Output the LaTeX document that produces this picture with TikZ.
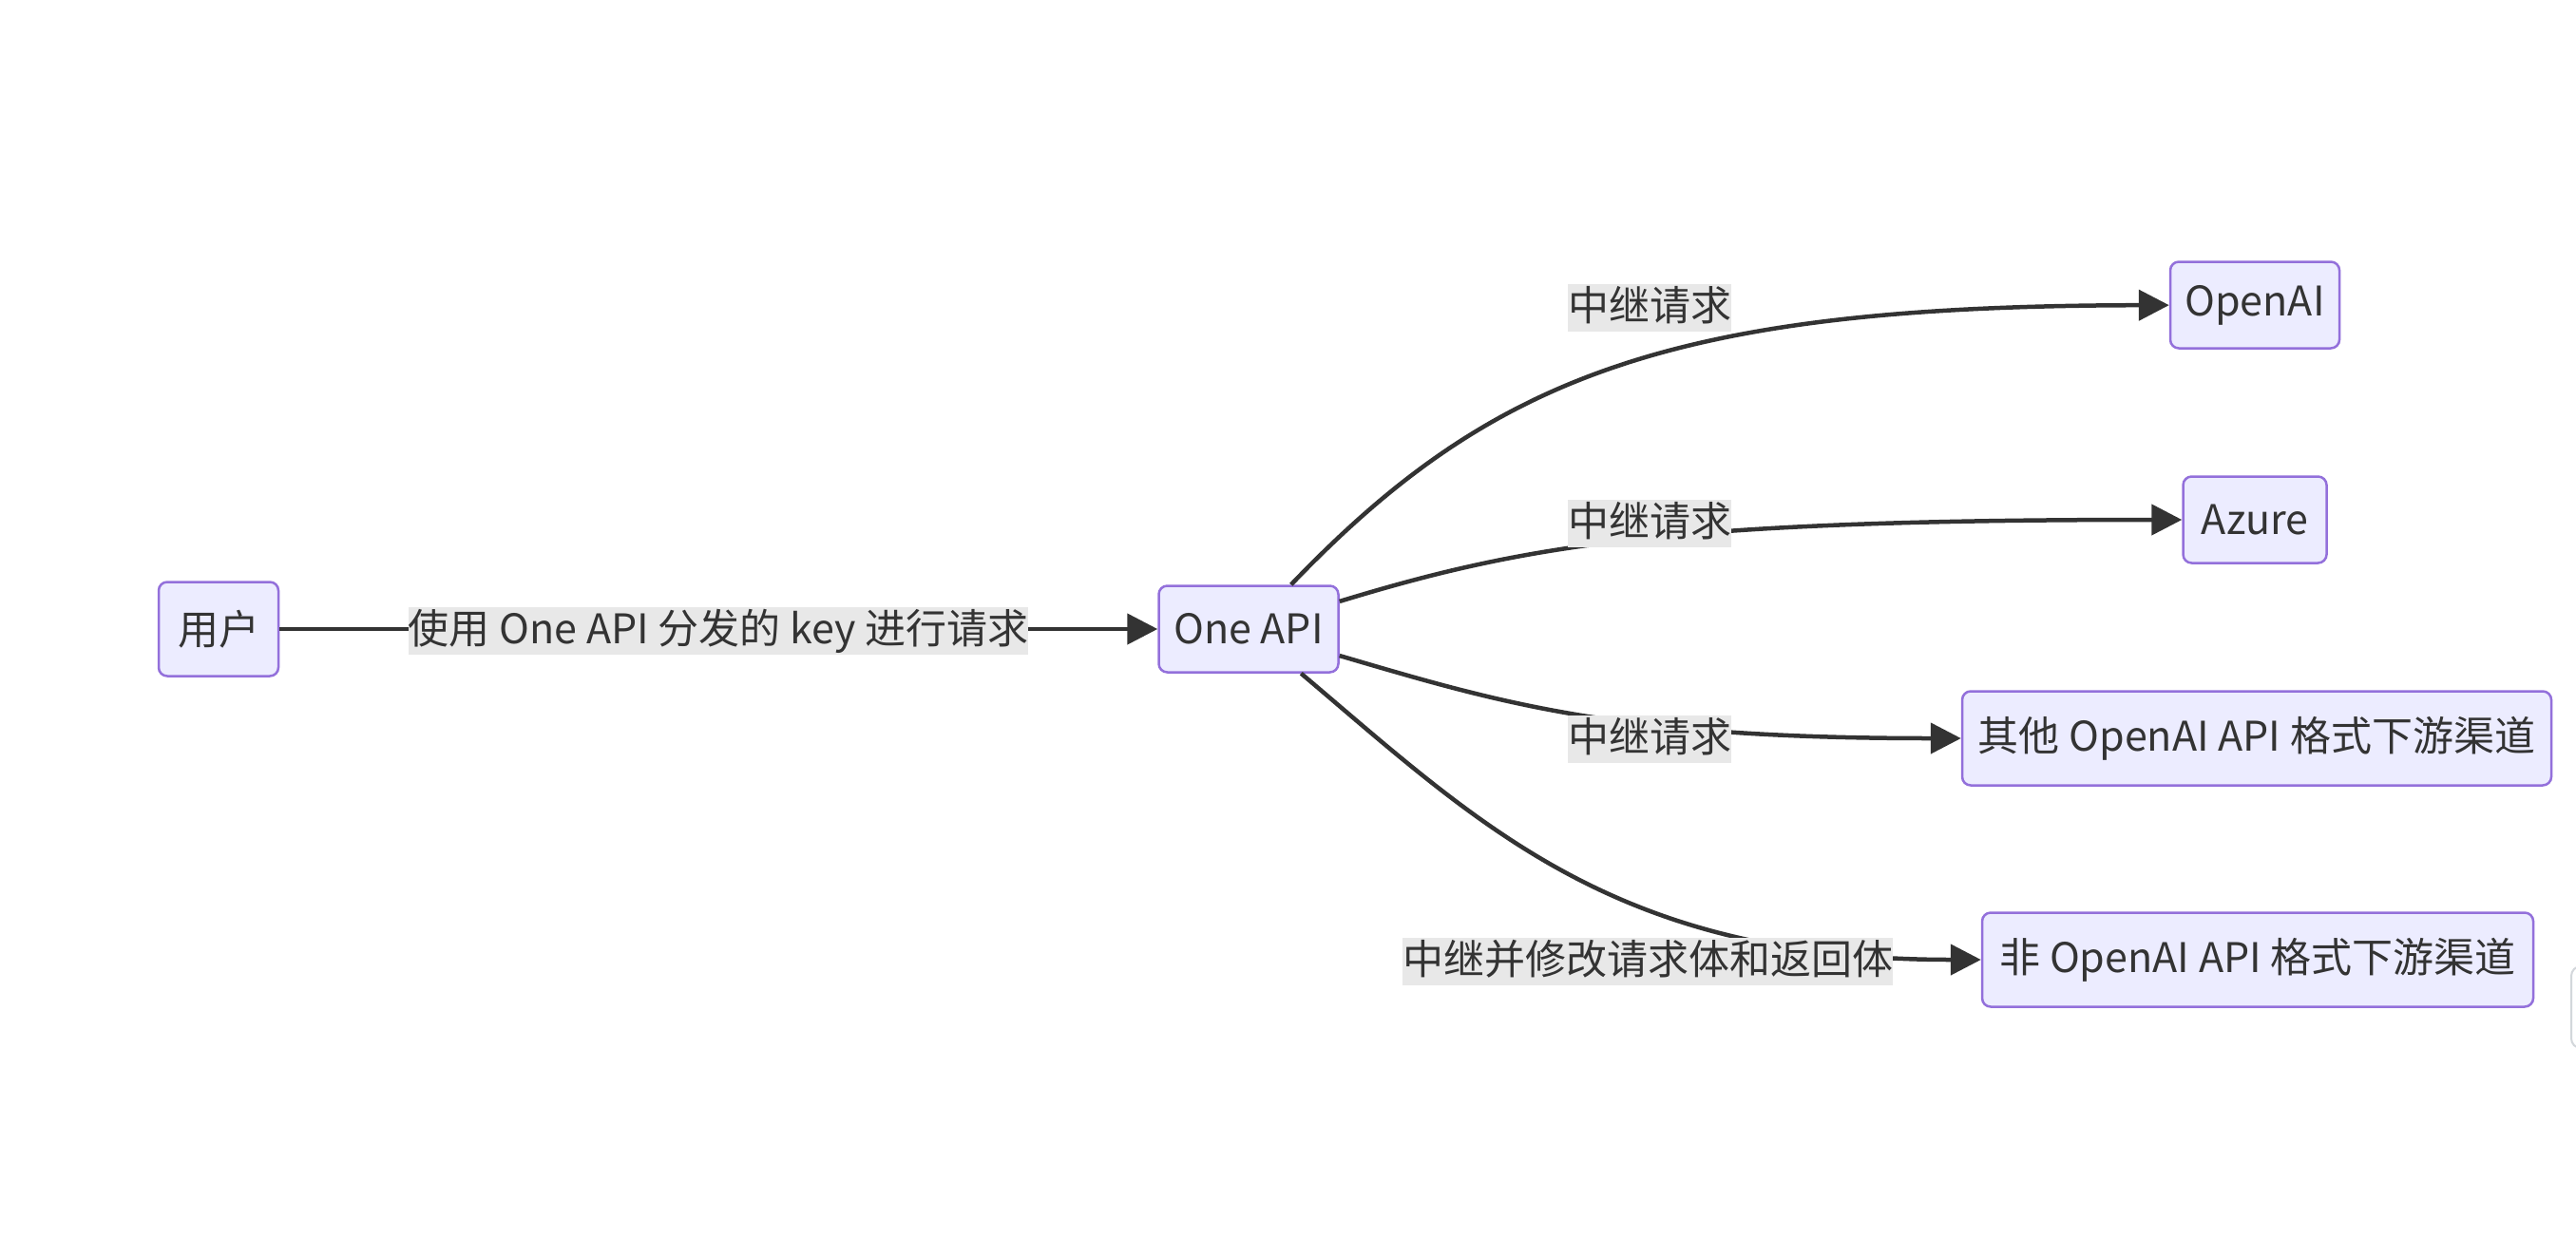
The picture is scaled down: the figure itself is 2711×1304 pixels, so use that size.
\documentclass[tikz,border=0pt]{standalone}
\usepackage{fontspec}
\setmainfont{Noto Sans CJK SC}
\usetikzlibrary{arrows.meta}
\definecolor{nodefill}{HTML}{ECECFF}
\definecolor{nodeline}{HTML}{9370DB}
\definecolor{edgecol}{HTML}{333333}
\definecolor{labelbg}{HTML}{E8E8E8}
\definecolor{txtcol}{HTML}{333333}
\definecolor{ghostline}{HTML}{D3D7DB}
\begin{document}
\begin{tikzpicture}[x=1pt,y=-1pt,
  box/.style={draw=nodeline, fill=nodefill, line width=2.5pt, rounded corners=9pt,
    inner sep=0pt, text=txtcol, font=\fontsize{43}{50}\selectfont, anchor=center},
  elabel/.style={fill=labelbg, inner xsep=0pt, inner ysep=0pt, minimum height=50pt,
    text=txtcol, font=\fontsize{43}{50}\selectfont, text height=36pt, text depth=9pt, anchor=center},
  conn/.style={draw=edgecol, line width=4.5pt, -{Triangle[length=32pt,width=32pt]}}]
\useasboundingbox[fill=white] (0,0) rectangle (2711,1304);
% faint partial element at the right edge
\begin{scope}
\clip (0,0) rectangle (2711,1304);
\draw[ghostline, line width=2pt, rounded corners=10pt] (2706,1017) rectangle (2740,1103);
\end{scope}
% nodes
\node[box, minimum width=126pt, minimum height=99pt] (user) at (230,662) {用户};
\node[box, minimum width=189pt, minimum height=91pt] (oneapi) at (1314,662) {One API};
\node[box, minimum width=178pt, minimum height=91pt] (openai) at (2373,321) {OpenAI};
\node[box, minimum width=151pt, minimum height=91pt] (azure) at (2373,547) {Azure};
\node[box, minimum width=620pt, minimum height=99pt] (other) at (2375,777) {其他 OpenAI API 格式下游渠道};
\node[box, minimum width=580pt, minimum height=99pt] (nonoai) at (2376,1010) {非 OpenAI API 格式下游渠道};
% connectors
\draw[conn] (user) -- (oneapi);
\draw[conn] (oneapi) .. controls (1570,395) and (1760,322) .. (openai);
\draw[conn] (oneapi) .. controls (1600,575) and (1750,547) .. (azure);
\draw[conn] (oneapi) .. controls (1580,740) and (1700,777) .. (other);
\draw[conn] (oneapi) .. controls (1560,870) and (1700,1010) .. (nonoai);
% edge labels
\node[elabel] (l1) at (756,664) {使用 One API 分发的 key 进行请求};
\node[elabel] (l2) at (1736,324) {中继请求};
\node[elabel] (l3) at (1736,551) {中继请求};
\node[elabel] (l4) at (1736,778) {中继请求};
\node[elabel] (l5) at (1734,1012) {中继并修改请求体和返回体};
\end{tikzpicture}
\end{document}
